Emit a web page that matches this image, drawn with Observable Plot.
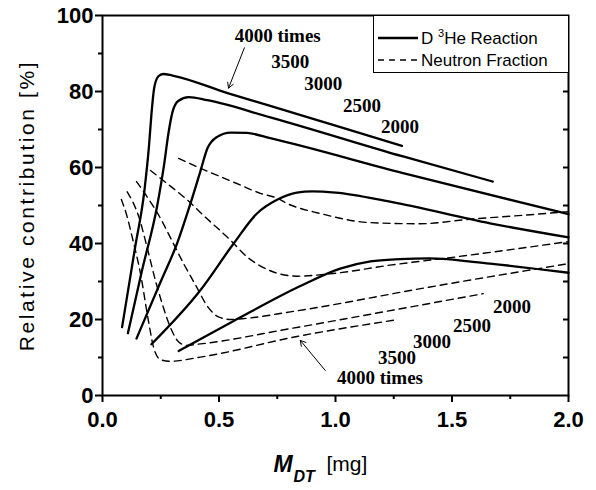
<!DOCTYPE html>
<html><head><meta charset="utf-8">
<script src="https://cdn.jsdelivr.net/npm/d3@7"></script>
<script src="https://cdn.jsdelivr.net/npm/@observablehq/plot@0.6"></script>
<style>
body{margin:0;background:#fff;}
#wrap{position:relative;width:596px;height:490px;}
#legend{position:absolute;left:373px;top:15px;width:196px;height:58px;border:1.2px solid #000;background:#fff;box-sizing:border-box;font-family:'Liberation Sans',Arial,sans-serif;}
</style></head><body>
<div id="wrap"></div>
<script>
// ---------- data ----------
const seriesNames = ["4000", "3500", "3000", "2500", "2000"];

// D3He reaction (solid)
const reactionX4000 = [0.084, 0.14, 0.18, 0.20, 0.21, 0.222, 0.24, 0.26, 0.30, 0.54, 0.72, 1.0, 1.285];
const reactionY4000 = [18, 39, 54, 66, 74, 81, 84, 84.6, 84.2, 79.5, 76.2, 71, 65.7];
const reactionX3500 = [0.109, 0.17, 0.235, 0.265, 0.283, 0.30, 0.325, 0.37, 0.45, 0.72, 1.29, 1.675];
const reactionY3500 = [16.4, 33, 50, 61, 69, 74.5, 77.5, 78.5, 77.7, 73.2, 62.9, 56.3];
const reactionX3000 = [0.146, 0.25, 0.32, 0.38, 0.42, 0.45, 0.49, 0.55, 0.62, 0.72, 1.29, 2.0];
const reactionY3000 = [15, 30, 40, 51, 59, 65, 68, 69.2, 69.1, 67.7, 58.5, 47.7];
const reactionX2500 = [0.21, 0.42, 0.563, 0.663, 0.749, 0.834, 0.9, 1.0, 1.234, 1.663, 2.0];
const reactionY2500 = [13.5, 27.7, 40, 47.9, 51.5, 53.4, 53.7, 53.4, 51, 45.3, 41.6];
const reactionX2000 = [0.327, 0.563, 0.849, 1.02, 1.15, 1.277, 1.4, 1.663, 2.0];
const reactionY2000 = [11.7, 19.6, 28.8, 33.4, 35.3, 35.9, 36.1, 34.7, 32.3];

// Neutron fraction (dashed)
const neutronX4000 = [0.081, 0.106, 0.127, 0.163, 0.199, 0.22, 0.25, 0.29, 0.42, 0.84, 1.249];
const neutronY4000 = [51.6, 47, 41.8, 32.1, 19, 12.5, 9.4, 9.0, 10.1, 15.6, 19.8];
const neutronX3500 = [0.106, 0.156, 0.191, 0.227, 0.256, 0.291, 0.327, 0.36, 0.41, 0.806, 1.25, 1.634];
const neutronY3500 = [53.6, 47, 39.1, 30.3, 24.2, 18, 14.1, 13.2, 13.5, 17.6, 22.5, 26.8];
const neutronX3000 = [0.146, 0.2, 0.25, 0.3, 0.35, 0.4, 0.45, 0.5, 0.55, 0.6, 0.806, 1.4, 2.0];
const neutronY3000 = [56.3, 51.5, 46.5, 40.5, 34.5, 29, 23.5, 20.6, 20.0, 20.2, 22, 28.5, 34.7];
const neutronX2500 = [0.206, 0.277, 0.363, 0.449, 0.549, 0.62, 0.68, 0.734, 0.834, 0.99, 1.234, 1.52, 2.0];
const neutronY2500 = [59.2, 55.8, 51.5, 46.5, 40.9, 36.5, 34, 32.5, 31.4, 32.1, 34.3, 36.5, 40.5];
const neutronX2000 = [0.327, 0.42, 0.506, 0.591, 0.677, 0.75, 0.79, 0.934, 1.149, 1.363, 1.577, 1.8, 2.0];
const neutronY2000 = [62.4, 59.8, 57.6, 55.4, 53.2, 51.9, 50.6, 47.9, 45.5, 45.2, 46.4, 47.4, 48.4];

// ticks
const xTicks = [0, 0.5, 1.0, 1.5, 2.0];
const xMinorTicks = [0.25, 0.75, 1.25, 1.75];
const yTicks = [0, 20, 40, 60, 80, 100];
const yMinorTicks = [10, 30, 50, 70, 90];
const yRightTicks = [10, 20, 30, 40, 50, 60, 70, 80, 90];

// annotations (data units)
const topLabels = ["4000 times", "3500", "3000", "2500", "2000"];
const topLabelX = [0.752, 0.806, 0.947, 1.114, 1.277];
const topLabelY = [94.5, 87.9, 82.1, 76.3, 70.7];
const bottomLabels = ["2000", "2500", "3000", "3500", "4000 times"];
const bottomLabelX = [1.757, 1.586, 1.414, 1.264, 1.191];
const bottomLabelY = [23.2, 18.2, 14.2, 9.8, 4.7];
const arrowsX1 = [0.609, 0.956];
const arrowsY1 = [91.5, 6.6];
const arrowsX2 = [0.541, 0.849];
const arrowsY2 = [80.9, 14.5];

// ---------- build tables ----------
const reactionXs = [reactionX4000, reactionX3500, reactionX3000, reactionX2500, reactionX2000];
const reactionYs = [reactionY4000, reactionY3500, reactionY3000, reactionY2500, reactionY2000];
const neutronXs = [neutronX4000, neutronX3500, neutronX3000, neutronX2500, neutronX2000];
const neutronYs = [neutronY4000, neutronY3500, neutronY3000, neutronY2500, neutronY2000];
const reactionRows = seriesNames.flatMap((s, i) => reactionXs[i].map((x, j) => ({series: s, x, y: reactionYs[i][j]})));
const neutronRows = seriesNames.flatMap((s, i) => neutronXs[i].map((x, j) => ({series: s, x, y: neutronYs[i][j]})));
const topRows = topLabels.map((t, i) => ({t, x: topLabelX[i], y: topLabelY[i]}));
const bottomRows = bottomLabels.map((t, i) => ({t, x: bottomLabelX[i], y: bottomLabelY[i]}));
const arrowRows = arrowsX1.map((x1, i) => ({x1, y1: arrowsY1[i], x2: arrowsX2[i], y2: arrowsY2[i]}));

const serif = "'Liberation Serif','Times New Roman',serif";

const chart = Plot.plot({
  width: 596, height: 490,
  marginLeft: 102, marginRight: 28, marginTop: 15, marginBottom: 95,
  x: {domain: [0, 2], label: null},
  y: {domain: [0, 100], label: null},
  style: {fontFamily: "'Liberation Sans',Arial,sans-serif", color: "#000", background: "#fff", overflow: "visible"},
  marks: [
    Plot.axisX({ticks: xTicks, tickSize: 7, tickPadding: 9, tickFormat: d3.format(".1f"), fontSize: 22, fontWeight: "bold", label: null, strokeWidth: 2}),
    Plot.axisX({ticks: xMinorTicks, tickSize: 4, tickFormat: () => "", label: null, strokeWidth: 2}),
    Plot.axisY({ticks: yTicks, tickSize: 7, tickPadding: 2, tickFormat: d3.format("d"), fontSize: 22, fontWeight: "bold", label: null, strokeWidth: 2}),
    Plot.axisY({ticks: yMinorTicks, tickSize: 4, tickFormat: () => "", label: null, strokeWidth: 2}),
    Plot.tickY(yRightTicks, {y: d => d, insetLeft: 461, stroke: "#000", strokeWidth: 2}),
    Plot.line(neutronRows, {x: "x", y: "y", z: "series", curve: "monotone-x", stroke: "#000", strokeWidth: 1.4, strokeDasharray: "7,5"}),
    Plot.line(reactionRows, {x: "x", y: "y", z: "series", curve: "monotone-x", stroke: "#000", strokeWidth: 2.3}),
    Plot.frame({stroke: "#000", strokeWidth: 2}),
    Plot.text(topRows, {x: "x", y: "y", text: "t", fontFamily: serif, fontWeight: "bold", fontSize: 19, textAnchor: "middle"}),
    Plot.text(bottomRows, {x: "x", y: "y", text: "t", fontFamily: serif, fontWeight: "bold", fontSize: 19, textAnchor: "middle"}),
    Plot.arrow(arrowRows, {x1: "x1", y1: "y1", x2: "x2", y2: "y2", stroke: "#000", strokeWidth: 1, headLength: 9}),
    Plot.text(["Relative contribution [%]"], {text: d => d, frameAnchor: "left", dx: -75, rotate: -90, fontSize: 21, textAnchor: "middle"}),
    Plot.text(["M"], {text: d => d, frameAnchor: "bottom", dx: -62, dy: 76, textAnchor: "start", fontSize: 23, fontStyle: "italic", fontWeight: "bold"}),
    Plot.text(["DT"], {text: d => d, frameAnchor: "bottom", dx: -42, dy: 86, textAnchor: "start", fontSize: 16, fontStyle: "italic", fontWeight: "bold"}),
    Plot.text(["[mg]"], {text: d => d, frameAnchor: "bottom", dx: -9, dy: 75, textAnchor: "start", fontSize: 21})
  ]
});

d3.select(chart).selectAll("text")
  .filter(function() { return this.textContent === "Relative contribution [%]"; })
  .style("letter-spacing", "2.6px");

const wrap = document.getElementById("wrap");
wrap.appendChild(chart);

const legend = document.createElement("div");
legend.id = "legend";
legend.innerHTML = `<svg width="196" height="58" style="display:block">
  <line x1="4" y1="22" x2="44" y2="22" stroke="#000" stroke-width="2.3"/>
  <text x="47" y="22" dy="0.35em" font-size="17">D <tspan dy="-7" font-size="11">3</tspan><tspan dy="7">He Reaction</tspan></text>
  <line x1="4" y1="44" x2="44" y2="44" stroke="#000" stroke-width="1.4" stroke-dasharray="6,5"/>
  <text x="47" y="44" dy="0.35em" font-size="17">Neutron Fraction</text>
</svg>`;
wrap.appendChild(legend);
</script>
</body></html>
